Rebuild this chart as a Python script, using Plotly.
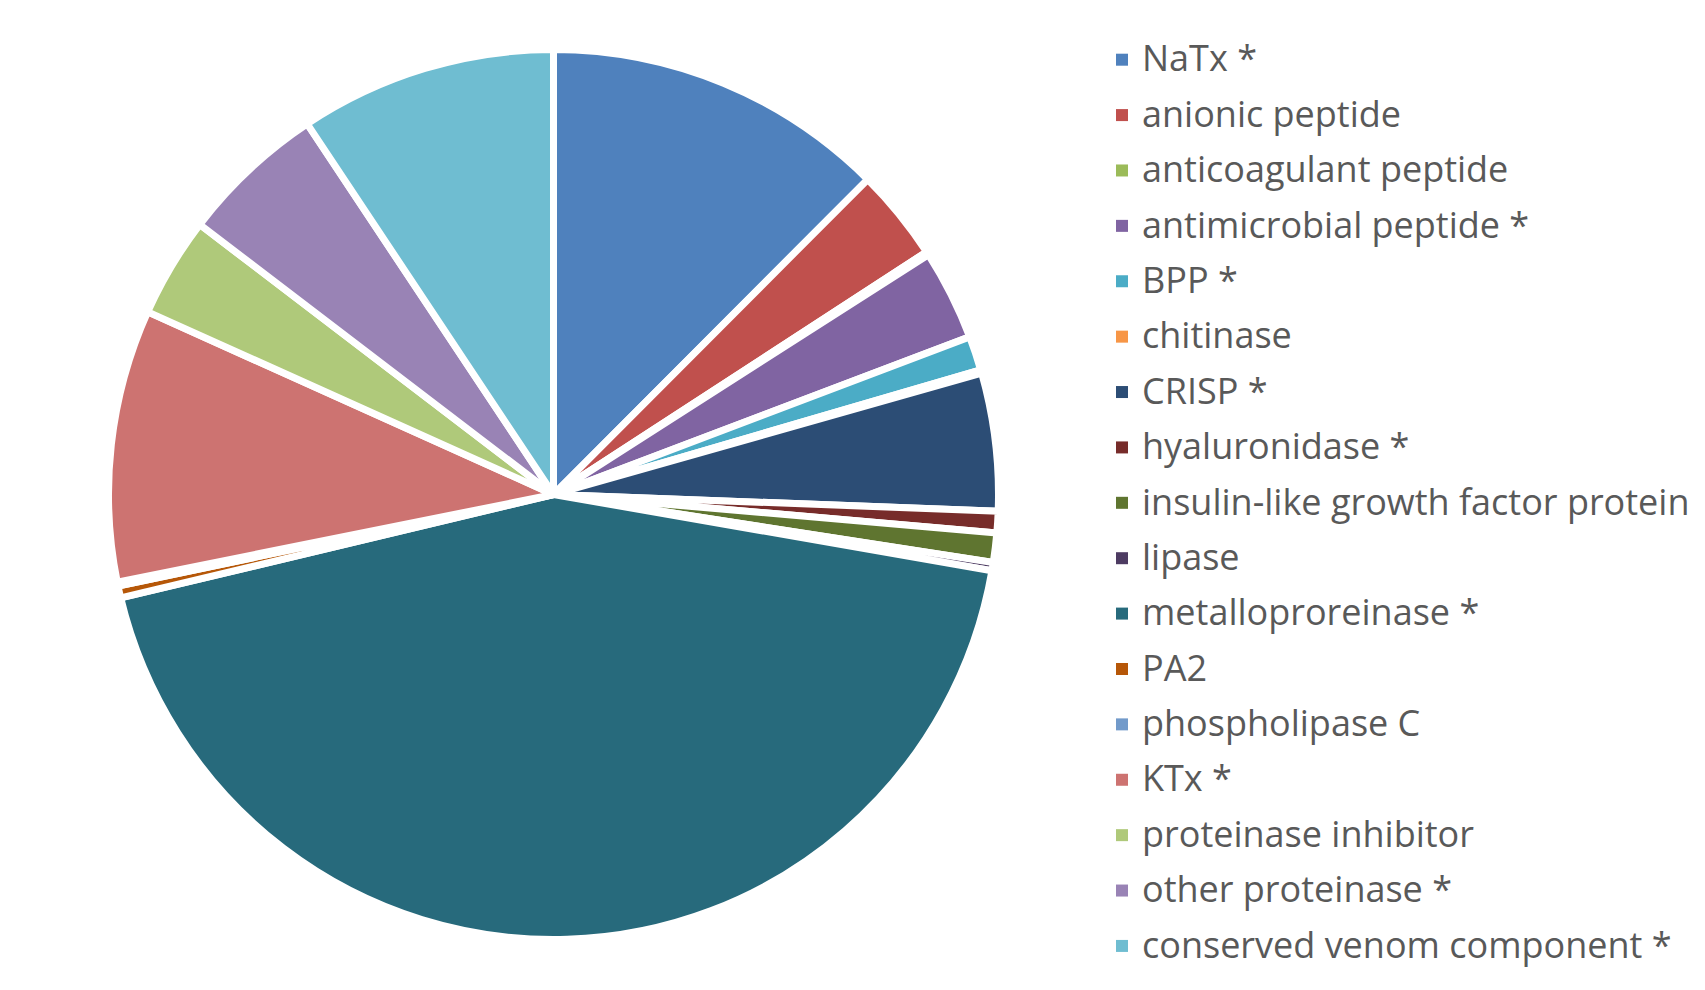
import plotly.graph_objects as go

labels = [
    "NaTx *", "anionic peptide", "anticoagulant peptide", "antimicrobial peptide *",
    "BPP *", "chitinase", "CRISP *", "hyaluronidase *",
    "insulin-like growth factor protein", "lipase", "metalloproreinase *", "PA2",
    "phospholipase C", "KTx *", "proteinase inhibitor", "other proteinase *",
    "conserved venom component *",
]
values = [12.5, 3.35, 0.12, 3.3, 1.25, 0.12, 5.0, 0.78, 1.07, 0.3, 43.6, 0.43,
          0.15, 9.9, 3.65, 5.3, 9.35]
colors = [
    "#4F81BD", "#C0504D", "#9BBB59", "#8064A2", "#4BACC6", "#F79646", "#2C4D75",
    "#772C2A", "#5F7530", "#4D3B62", "#276A7C", "#B65708", "#729ACA", "#CD7371",
    "#AFC97A", "#9983B5", "#6FBDD1",
]

W, H = 1705, 990
# page body has an 8px default margin; compensate
cx, cy, r = 545.5, 486.5, 445.0

legend_labels = [
    '<span style="font-size:36px;baseline-shift:4px">%s</span>' % t for t in labels
]

fig = go.Figure()

# legend carrier: same data, no white outline (so legend squares are full size);
# drawn tiny and hidden underneath the main pie
lx, ly = 545.0 / W, 1 - 800.0 / H
fig.add_trace(go.Pie(
    labels=legend_labels,
    values=values,
    sort=False,
    direction="clockwise",
    textinfo="none",
    hoverinfo="skip",
    marker=dict(colors=colors, line=dict(width=0)),
    domain=dict(x=[lx - 0.001, lx + 0.001], y=[ly - 0.001, ly + 0.001]),
    showlegend=True,
))

fig.add_trace(go.Pie(
    labels=legend_labels,
    values=values,
    sort=False,
    direction="clockwise",
    rotation=0,
    textinfo="none",
    marker=dict(colors=colors, line=dict(color="white", width=7)),
    domain=dict(x=[(cx - r) / W, (cx + r) / W], y=[(H - cy - r) / H, (H - cy + r) / H]),
    showlegend=False,
))

fig.update_layout(
    width=W, height=H,
    margin=dict(l=0, r=0, t=0, b=0),
    paper_bgcolor="white",
    plot_bgcolor="white",
    font=dict(family="Open Sans", color="#595959"),
    legend=dict(
        x=1094 / W, xanchor="left",
        y=1 - 19 / H, yanchor="top",
        font=dict(size=40.3, family="Open Sans", color="#595959"),
        bgcolor="rgba(0,0,0,0)",
        borderwidth=0,
    ),
    showlegend=True,
)

fig.write_html("out.html")
